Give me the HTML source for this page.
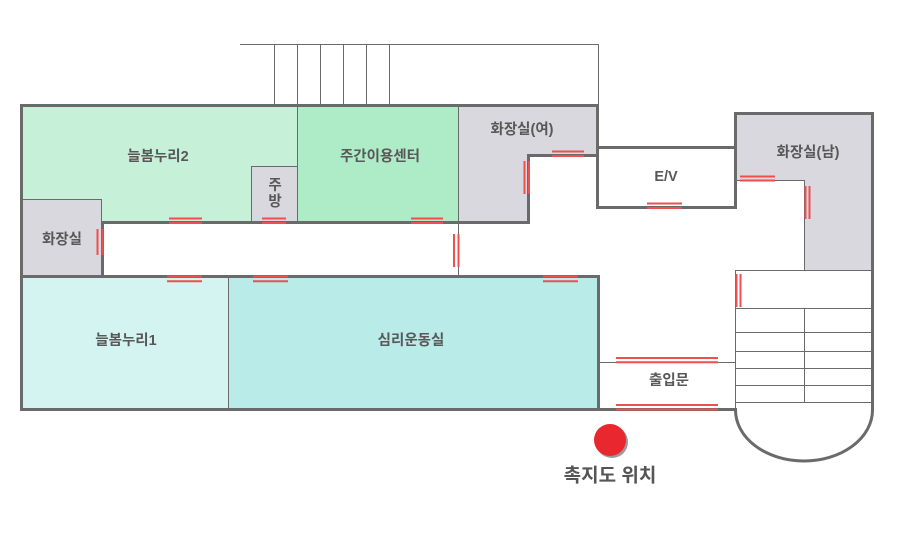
<!DOCTYPE html>
<html><head><meta charset="utf-8">
<style>
html,body{margin:0;padding:0;background:#fff;}
svg{display:block;}
text{font-family:"Liberation Sans","Noto Sans CJK KR",sans-serif;fill:#585858;font-size:14.5px;font-weight:700;}
</style></head>
<body>
<svg width="900" height="549" viewBox="0 0 900 549" xmlns="http://www.w3.org/2000/svg">
<!-- fills -->
<rect x="23" y="107" width="274" height="114" fill="#c6f0d7"/>
<rect x="297" y="107" width="161" height="114" fill="#aeebc7"/>
<polygon points="458,107 596,107 596,154 527,154 527,221 458,221" fill="#d9d8de"/>
<rect x="23" y="199" width="78" height="76" fill="#d9d8de"/>
<rect x="251" y="166" width="46" height="55" fill="#d9d8de"/>
<rect x="23" y="278" width="205" height="130" fill="#d4f4f2"/>
<rect x="228" y="278" width="369" height="130" fill="#b9ebe9"/>
<polygon points="737,115 871,115 871,270 804,270 804,180 737,180" fill="#d9d8de"/>

<!-- thin lines -->
<g stroke="#6a6a6a" stroke-width="1" fill="none">
<line x1="240" y1="44.5" x2="598.5" y2="44.5"/>
<line x1="274.5" y1="44" x2="274.5" y2="104"/>
<line x1="297.5" y1="44" x2="297.5" y2="104"/>
<line x1="320.5" y1="44" x2="320.5" y2="104"/>
<line x1="343.5" y1="44" x2="343.5" y2="104"/>
<line x1="366.5" y1="44" x2="366.5" y2="104"/>
<line x1="389.5" y1="44" x2="389.5" y2="104"/>
<line x1="598.5" y1="44" x2="598.5" y2="104"/>
<polyline points="22,199.5 101.5,199.5 101.5,222"/>
<polyline points="251.5,222 251.5,166.5 297,166.5"/>
<line x1="297.5" y1="107" x2="297.5" y2="222"/>
<line x1="458.5" y1="107" x2="458.5" y2="275"/>
<line x1="228.5" y1="277" x2="228.5" y2="408"/>
<polyline points="737,180.5 804.5,180.5 804.5,270"/>
<line x1="735" y1="270.5" x2="872" y2="270.5"/>
<line x1="735.5" y1="270" x2="735.5" y2="410"/>
<line x1="735" y1="308.5" x2="872" y2="308.5"/>
<line x1="735" y1="332.5" x2="872" y2="332.5"/>
<line x1="735" y1="351.5" x2="872" y2="351.5"/>
<line x1="735" y1="368.5" x2="872" y2="368.5"/>
<line x1="735" y1="385.5" x2="872" y2="385.5"/>
<line x1="735" y1="402.5" x2="872" y2="402.5"/>
<line x1="804.5" y1="308" x2="804.5" y2="402.5"/>
<line x1="599" y1="362.5" x2="736" y2="362.5"/>
</g>

<!-- thick walls -->
<g stroke="#6a6a6a" stroke-width="3" fill="none" stroke-linecap="square">
<line x1="21.5" y1="105.5" x2="597.5" y2="105.5"/>
<line x1="597.5" y1="105.5" x2="597.5" y2="155.5"/>
<line x1="528.5" y1="155.5" x2="597.5" y2="155.5"/>
<line x1="528.5" y1="155.5" x2="528.5" y2="222.5"/>
<line x1="102.5" y1="222.5" x2="528.5" y2="222.5"/>
<line x1="102.5" y1="222.5" x2="102.5" y2="276.5"/>
<line x1="21.5" y1="105.5" x2="21.5" y2="409.5"/>
<line x1="21.5" y1="276.5" x2="598.5" y2="276.5"/>
<line x1="598.5" y1="276.5" x2="598.5" y2="409.5"/>
<line x1="21.5" y1="409.5" x2="735.5" y2="409.5"/>
<line x1="597.5" y1="147.5" x2="597.5" y2="207.5"/>
<line x1="597.5" y1="147.5" x2="735.5" y2="147.5"/>
<line x1="597.5" y1="207.5" x2="735.5" y2="207.5"/>
<line x1="735.5" y1="113.5" x2="735.5" y2="207.5"/>
<line x1="735.5" y1="113.5" x2="872.5" y2="113.5"/>
<line x1="872.5" y1="113.5" x2="872.5" y2="410"/>
</g>
<path d="M735.5,410 A68.5,51 0 0 0 872.5,410" stroke="#6a6a6a" stroke-width="3" fill="none"/>

<!-- red doors -->
<g stroke="#ef4f4f" stroke-width="2" fill="none">
<line x1="169" y1="218.5" x2="202" y2="218.5"/><line x1="169" y1="223" x2="202" y2="223"/>
<line x1="262" y1="218.5" x2="286" y2="218.5"/><line x1="262" y1="223" x2="286" y2="223"/>
<line x1="411" y1="218.5" x2="443" y2="218.5"/><line x1="411" y1="223" x2="443" y2="223"/>
<line x1="552" y1="151.5" x2="584" y2="151.5"/><line x1="552" y1="156" x2="584" y2="156"/>
<line x1="167" y1="276.5" x2="202" y2="276.5"/><line x1="167" y1="281.3" x2="202" y2="281.3"/>
<line x1="253" y1="276.5" x2="288" y2="276.5"/><line x1="253" y1="281.3" x2="288" y2="281.3"/>
<line x1="543" y1="276.5" x2="578" y2="276.5"/><line x1="543" y1="281.3" x2="578" y2="281.3"/>
<line x1="647" y1="203.5" x2="682" y2="203.5"/><line x1="647" y1="208" x2="682" y2="208"/>
<line x1="740" y1="176.5" x2="775" y2="176.5"/><line x1="740" y1="180.5" x2="775" y2="180.5"/>
<line x1="616" y1="358" x2="718" y2="358"/><line x1="616" y1="362.3" x2="718" y2="362.3"/>
<line x1="616" y1="405" x2="718" y2="405"/><line x1="616" y1="409.5" x2="718" y2="409.5"/>
<line x1="97.5" y1="229" x2="97.5" y2="255"/><line x1="102.5" y1="229" x2="102.5" y2="255"/>
<line x1="524.5" y1="161" x2="524.5" y2="194"/><line x1="529" y1="161" x2="529" y2="194"/>
<line x1="454" y1="234" x2="454" y2="267"/><line x1="458.5" y1="234" x2="458.5" y2="267"/>
<line x1="805.5" y1="186" x2="805.5" y2="219"/><line x1="809.5" y1="186" x2="809.5" y2="219"/>
<line x1="736.5" y1="274" x2="736.5" y2="307"/><line x1="740.5" y1="274" x2="740.5" y2="307"/>
</g>

<!-- location marker -->
<circle cx="612" cy="442" r="16" fill="#9a9a9a"/>
<circle cx="610" cy="440" r="16" fill="#e8282e"/>

<!-- labels -->
<g text-anchor="middle" dominant-baseline="central">
<text x="158" y="157">늘봄누리2</text>
<text x="275" y="186">주</text>
<text x="275" y="202">방</text>
<text x="380" y="157">주간이용센터</text>
<text x="522" y="130">화장실(여)</text>
<text x="62" y="240">화장실</text>
<text x="666" y="177">E/V</text>
<text x="808" y="153">화장실(남)</text>
<text x="126" y="341">늘봄누리1</text>
<text x="411" y="341">심리운동실</text>
<text x="669" y="381">출입문</text>
<text x="610" y="476" style="font-size:19px;font-weight:700;fill:#555;">촉지도 위치</text>
</g>
</svg>
</body></html>
